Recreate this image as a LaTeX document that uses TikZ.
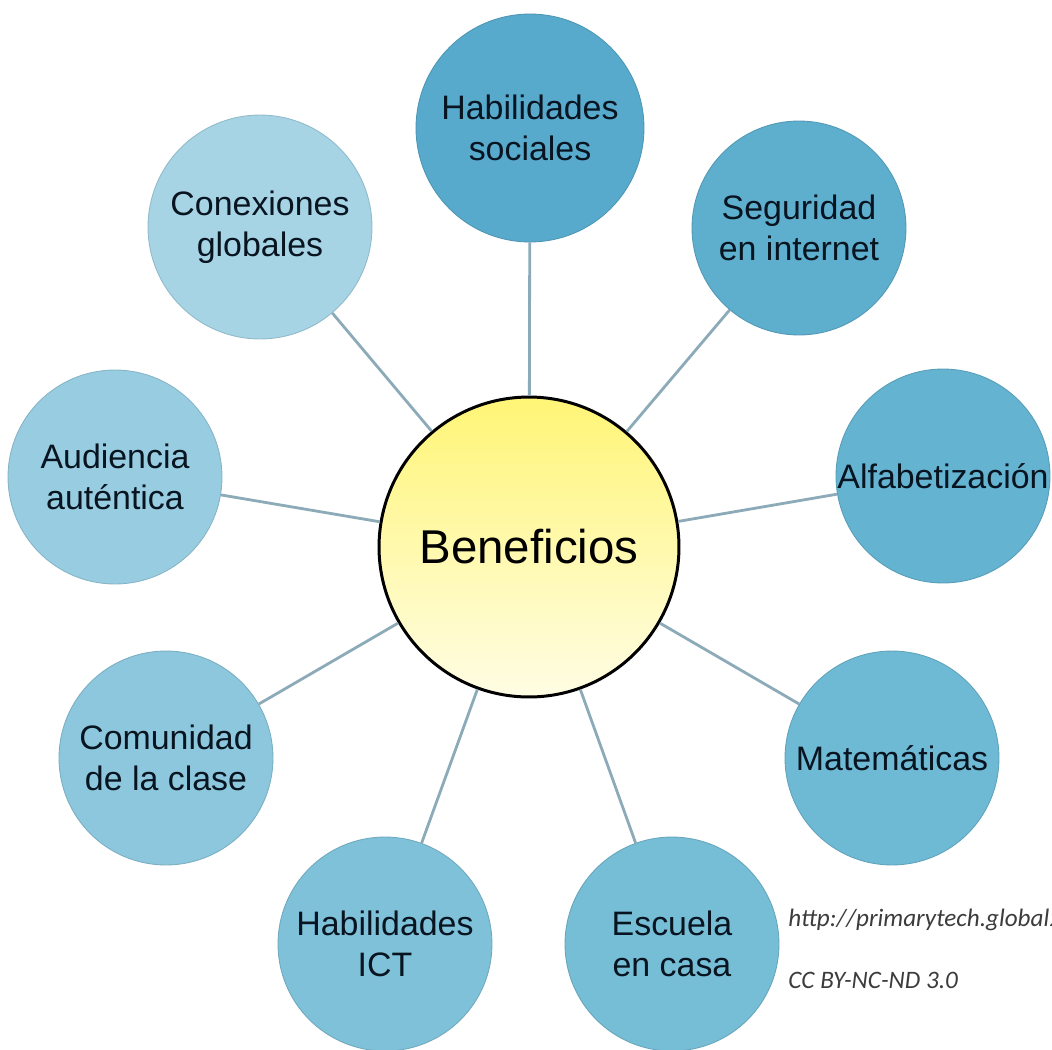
\documentclass[tikz,border=0pt]{standalone}
\usepackage{fontspec}
\usepackage{xcolor}
\setmainfont{Liberation Sans}
\newfontfamily\notefont{Carlito}
\usetikzlibrary{positioning}
\definecolor{spokegray}{RGB}{140,170,184}
\definecolor{inktext}{RGB}{8,20,32}
\definecolor{hubtop}{RGB}{255,245,118}
\definecolor{hubbottom}{RGB}{255,253,228}
\definecolor{notegray}{RGB}{60,60,60}
\definecolor{blueone}{RGB}{88,170,205}
\definecolor{bluetwo}{RGB}{94,174,206}
\definecolor{bluethree}{RGB}{100,179,209}
\definecolor{bluefour}{RGB}{110,185,212}
\definecolor{bluefive}{RGB}{118,189,214}
\definecolor{bluesix}{RGB}{126,193,217}
\definecolor{blueseven}{RGB}{140,199,221}
\definecolor{blueeight}{RGB}{152,205,225}
\definecolor{bluenine}{RGB}{166,212,229}

\begin{document}
\begin{tikzpicture}[x=0.02cm, y=-0.02cm,
    topic/.style={circle, inner sep=0pt, minimum size=4.28cm, align=center,
      text=inktext, font=\fontsize{19.3}{23.5}\selectfont,
      fill=#1, draw=#1!88!black, line width=0.5pt},
    hub/.style={circle, inner sep=0pt, minimum size=6.0cm,
      top color=hubtop, bottom color=hubbottom, draw=black, line width=1.7pt,
      font=\fontsize{27}{32}\selectfont},
    spoke/.style={draw=spokegray, line width=1.6pt},
    note/.style={anchor=west, inner sep=0pt, text=notegray,
      font=\notefont\itshape\fontsize{14.3}{16}\selectfont}]
    \useasboundingbox (0,0) rectangle (1052,1049);

    % centre
    \node[hub] (hub) at (529,547) {Beneficios};

    % ring of topics
    \node[topic=blueone, minimum size=4.56cm] (sociales) at (530,128) {Habilidades\\sociales};
    \node[topic=bluetwo] (seguridad) at (799,228) {Seguridad\\en internet};
    \node[topic=bluethree] (alfa) at (943,476) {Alfabetización};
    \node[topic=bluefour] (mate) at (892,758) {Matemáticas};
    \node[topic=bluefive] (escuela) at (672,944) {Escuela\\en casa};
    \node[topic=bluesix] (ict) at (385,944) {Habilidades\\ICT};
    \node[topic=blueseven] (comunidad) at (166,758) {Comunidad\\de la clase};
    \node[topic=blueeight] (audiencia) at (115,477) {Audiencia\\auténtica};
    \node[topic=bluenine, minimum size=4.48cm] (conexiones) at (260,227) {Conexiones\\globales};

    % spokes
    \draw[spoke] (hub) -- (sociales);
    \draw[spoke] (hub) -- (seguridad);
    \draw[spoke] (hub) -- (alfa);
    \draw[spoke] (hub) -- (mate);
    \draw[spoke] (hub) -- (escuela);
    \draw[spoke] (hub) -- (ict);
    \draw[spoke] (hub) -- (comunidad);
    \draw[spoke] (hub) -- (audiencia);
    \draw[spoke] (hub) -- (conexiones);

    % source note
    \node[note] (url) at (788,920) {http://primarytech.global2};
    \node[note] (licence) at (788,980) {CC BY-NC-ND 3.0};
\end{tikzpicture}
\end{document}
